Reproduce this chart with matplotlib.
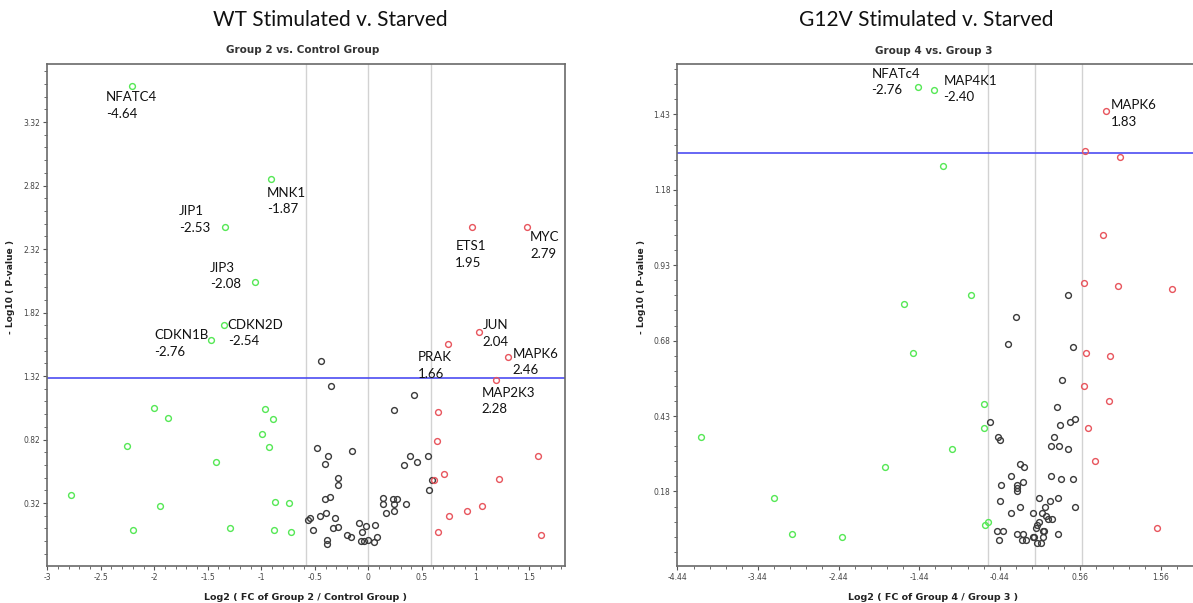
import numpy as np
import matplotlib
matplotlib.use("Agg")
import matplotlib.pyplot as plt
from matplotlib.ticker import FixedLocator

# ---- left panel: WT (Group 2 vs. Control Group) ----
wt_green_x = [-2.00, -1.87, -0.97, -0.89, -0.99, -0.93, -2.25, -1.42, -2.78, -1.95,
              -0.87, -0.74, -2.20, -1.29, -0.88, -0.72]
wt_green_y = [1.07, 0.99, 1.06, 0.98, 0.86, 0.76, 0.77, 0.64, 0.38, 0.30,
              0.33, 0.32, 0.11, 0.12, 0.11, 0.09]
wt_red_x = [0.65, 0.64, 1.58, 0.71, 0.61, 1.22, 1.06, 0.92, 0.75, 0.65, 1.61]
wt_red_y = [1.04, 0.81, 0.69, 0.55, 0.50, 0.51, 0.30, 0.26, 0.22, 0.09, 0.07]
wt_black_x = [-0.44, -0.35, 0.43, 0.24, -0.48, -0.15, -0.38, -0.41, 0.39, 0.56,
              0.33, 0.45, -0.28, -0.28, 0.59, 0.57, -0.41, -0.36, 0.14, 0.14,
              0.23, 0.27, 0.24, 0.35, 0.24, 0.16, -0.55, -0.56, -0.45, -0.40,
              -0.31, -0.33, -0.28, -0.52, -0.09, -0.02, 0.06, -0.06, -0.20, -0.16,
              0.08, -0.39, -0.39, -0.07, -0.04, 0.00, 0.05]
wt_black_y = [1.44, 1.24, 1.17, 1.05, 0.75, 0.73, 0.69, 0.63, 0.69, 0.69,
              0.62, 0.64, 0.52, 0.46, 0.50, 0.42, 0.35, 0.37, 0.36, 0.31,
              0.35, 0.35, 0.31, 0.31, 0.26, 0.24, 0.20, 0.19, 0.22, 0.24,
              0.20, 0.12, 0.13, 0.11, 0.16, 0.14, 0.15, 0.09, 0.07, 0.05,
              0.05, 0.03, 0.00, 0.02, 0.02, 0.03, 0.01]
wt_genes = ["NFATC4", "MNK1", "JIP1", "JIP3", "ETS1", "MYC",
            "CDKN2D", "CDKN1B", "JUN", "PRAK", "MAPK6", "MAP2K3"]
wt_fc = ["-4.64", "-1.87", "-2.53", "-2.08", "1.95", "2.79",
         "-2.54", "-2.76", "2.04", "1.66", "2.46", "2.28"]
wt_gene_x = [-2.21, -0.91, -1.34, -1.06, 0.97, 1.48,
             -1.35, -1.47, 1.03, 0.74, 1.30, 1.19]
wt_gene_y = [3.60, 2.87, 2.49, 2.06, 2.49, 2.49,
             1.72, 1.60, 1.67, 1.57, 1.47, 1.29]

# ---- right panel: G12V (Group 4 vs. Group 3) ----
g12_green_x = [-1.14, -0.80, -1.63, -1.52, -0.64, -0.64, -4.15, -1.03, -1.86, -3.24,
               -0.59, -0.62, -3.02, -2.40]
g12_green_y = [1.26, 0.83, 0.80, 0.64, 0.47, 0.39, 0.36, 0.32, 0.26, 0.16,
               0.08, 0.07, 0.04, 0.03]
g12_red_x = [0.62, 1.05, 0.84, 0.60, 1.03, 1.70, 0.63, 0.93, 0.61, 0.91,
             0.65, 0.74, 1.51]
g12_red_y = [1.31, 1.29, 1.03, 0.87, 0.86, 0.85, 0.64, 0.63, 0.53, 0.48,
             0.39, 0.28, 0.06]
g12_black_x = [0.41, -0.24, -0.34, 0.47, 0.33, 0.27, -0.56, 0.50, 0.43, 0.31,
               -0.46, -0.44, 0.23, 0.19, 0.30, 0.41, -0.19, -0.14, -0.30, 0.19,
               0.32, 0.47, -0.15, -0.43, -0.23, -0.22, -0.23, -0.44, 0.28, 0.05,
               0.18, 0.49, 0.12, -0.19, -0.30, -0.03, 0.08, 0.14, 0.21, 0.16,
               0.05, 0.02, 0.01, 0.10, 0.11, -0.48, -0.40, -0.22, -0.15, -0.03,
               -0.01, 0.10, 0.28, -0.45, -0.16, -0.12, 0.02, 0.07]
g12_black_y = [0.83, 0.76, 0.67, 0.66, 0.55, 0.46, 0.41, 0.42, 0.41, 0.40,
               0.36, 0.35, 0.36, 0.33, 0.33, 0.32, 0.27, 0.26, 0.23, 0.23,
               0.22, 0.22, 0.21, 0.20, 0.20, 0.18, 0.19, 0.15, 0.16, 0.16,
               0.15, 0.13, 0.13, 0.13, 0.11, 0.11, 0.11, 0.10, 0.09, 0.09,
               0.08, 0.07, 0.06, 0.05, 0.05, 0.05, 0.05, 0.04, 0.04, 0.03,
               0.03, 0.03, 0.04, 0.02, 0.02, 0.02, 0.01, 0.01]
g12_genes = ["NFATc4", "MAP4K1", "MAPK6"]
g12_fc = ["-2.76", "-2.40", "1.83"]
g12_gene_x = [-1.46, -1.25, 0.88]
g12_gene_y = [1.52, 1.51, 1.44]

# label offsets in pixels (left edge of text, middle of the two lines)
wt_offsets = [(-26, -19), (-4, -22), (-46, 8), (-45, 6), (-17, -27), (3, -18),
              (4, -8), (-57, -3), (4, -2), (-30, -21), (5, -5), (-14, -21)]
g12_offsets = [(-46, 5), (9, 1), (5, -2)]

GREEN = "#55e855"
RED = "#e8555d"
BLACK = "#3a3a3a"
LABEL_FONT = ["Lato", "DejaVu Sans"]

W, H = 1193, 603
fig = plt.figure(figsize=(W / 100, H / 100), dpi=100)


def px_axes(left, right, top, bottom):
    return fig.add_axes([left / W, 1 - bottom / H, (right - left) / W, (bottom - top) / H])


def draw_panel(ax, gx, gy, rx, ry, bx, by, genes, fc, ax_x, ax_y, offsets):
    for v in (-0.585, 0, 0.585):
        ax.axvline(v, color="#d2d2d2", lw=1.0, zorder=1)
    ax.axhline(1.301, color="#4d4df2", lw=1.2, zorder=2)
    kw = dict(ls="none", marker="o", ms=4.2, mfc="none", mew=1.0, zorder=3)
    ax.plot(bx, by, color=BLACK, **kw)
    ax.plot(gx, gy, color=GREEN, **kw)
    ax.plot(rx, ry, color=RED, **kw)
    for name, val, x, y, off in zip(genes, fc, ax_x, ax_y, offsets):
        ax.plot([x], [y], color=GREEN if val.startswith("-") else RED, **kw)
        ax.annotate(name + "\n" + val, (x, y), xytext=off, textcoords="offset pixels",
                    ha="left", va="center", fontsize=9.5, family=LABEL_FONT,
                    linespacing=1.45, color="#111111")
    for s in ax.spines.values():
        s.set_color("#6a6a6a")
        s.set_linewidth(1.2)
    ax.tick_params(which="major", length=3, width=0.8, color="#555555",
                   labelsize=5.5, labelcolor="#444444", pad=2)
    ax.tick_params(which="minor", length=2, width=0.6, color="#555555")
    ax.tick_params(top=False, right=False)


# left panel
ax1 = px_axes(47.1, 565.2, 64.0, 566.3)
draw_panel(ax1, wt_green_x, wt_green_y, wt_red_x, wt_red_y, wt_black_x, wt_black_y,
           wt_genes, wt_fc, wt_gene_x, wt_gene_y, wt_offsets)
ax1.set_xlim(-3, 1.837)
ax1.set_ylim(-0.178, 3.777)
ax1.set_xticks([-3, -2.5, -2, -1.5, -1, -0.5, 0, 0.5, 1, 1.5])
ax1.set_xticklabels(["-3", "-2.5", "-2", "-1.5", "-1", "-0.5", "0", "0.5", "1", "1.5"])
ax1.set_yticks([0.32, 0.82, 1.32, 1.82, 2.32, 2.82, 3.32])
ax1.set_yticklabels(["0.32", "0.82", "1.32", "1.82", "2.32", "2.82", "3.32"])
ax1.xaxis.set_minor_locator(FixedLocator(np.arange(-3, 1.84, 0.1)))
ax1.yaxis.set_minor_locator(FixedLocator(np.arange(-0.08, 3.78, 0.1)))
ax1.set_xlabel("Log2 ( FC of Group 2 / Control Group )", fontsize=6.8, fontweight="bold",
               color="#222222")
ax1.set_ylabel("- Log10 ( P-value )", fontsize=6.6, fontweight="bold", color="#222222")
ax1.xaxis.set_label_coords(0.498, -0.053)
ax1.yaxis.set_label_coords(-0.062, 0.556)

# right panel (runs past the right edge of the picture)
ax2 = px_axes(677.4, 1201.2, 64.3, 566.3)
draw_panel(ax2, g12_green_x, g12_green_y, g12_red_x, g12_red_y, g12_black_x, g12_black_y,
           g12_genes, g12_fc, g12_gene_x, g12_gene_y, g12_offsets)
ax2.set_xlim(-4.44, 2.06)
ax2.set_ylim(-0.068, 1.596)
xt2 = [-4.44, -3.44, -2.44, -1.44, -0.44, 0.56, 1.56]
ax2.set_xticks(xt2)
ax2.set_xticklabels(["%.2f" % v for v in xt2])
yt2 = [0.18, 0.43, 0.68, 0.93, 1.18, 1.43]
ax2.set_yticks(yt2)
ax2.set_yticklabels(["%.2f" % v for v in yt2])
ax2.xaxis.set_minor_locator(FixedLocator(np.arange(-4.44, 2.06, 0.2)))
ax2.yaxis.set_minor_locator(FixedLocator(np.arange(-0.07, 1.6, 0.05)))
ax2.set_xlabel("Log2 ( FC of Group 4 / Group 3 )", fontsize=6.8, fontweight="bold",
               color="#222222")
ax2.set_ylabel("- Log10 ( P-value )", fontsize=6.6, fontweight="bold", color="#222222")
ax2.xaxis.set_label_coords(0.488, -0.053)
ax2.yaxis.set_label_coords(-0.0607, 0.556)

# titles
fig.text(330 / W, 1 - 20 / H, "WT Stimulated v. Starved", ha="center", va="center",
         fontsize=15, family=LABEL_FONT, color="#111111")
fig.text(303 / W, 1 - 50 / H, "Group 2 vs. Control Group", ha="center", va="center",
         fontsize=7.5, fontweight="bold", color="#333333")
fig.text(926 / W, 1 - 20 / H, "G12V Stimulated v. Starved", ha="center", va="center",
         fontsize=15, family=LABEL_FONT, color="#111111")
fig.text(934 / W, 1 - 51 / H, "Group 4 vs. Group 3", ha="center", va="center",
         fontsize=7.5, fontweight="bold", color="#333333")

fig.savefig("out.png", dpi=100)
